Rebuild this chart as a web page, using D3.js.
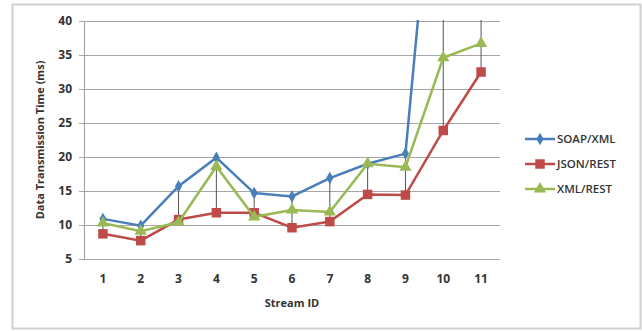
<!DOCTYPE html>
<html>
<head>
<meta charset="utf-8">
<script src="https://cdn.jsdelivr.net/npm/d3@7"></script>
<style>
  body { margin: 0; background: #fff; }
  text { font-family: "Open Sans", "Liberation Sans", sans-serif; }
</style>
</head>
<body>
<div id="chart"></div>
<script>
// chart data
const streamIds = [1, 2, 3, 4, 5, 6, 7, 8, 9, 10, 11];
const soapXml = [10.9, 9.9, 15.7, 19.9, 14.7, 14.2, 16.9, 19.0, 20.5, 80, 85];
const jsonRest = [8.7, 7.7, 10.8, 11.8, 11.8, 9.6, 10.5, 14.5, 14.4, 23.9, 32.5];
const xmlRest = [10.3, 9.1, 10.4, 18.6, 11.2, 12.2, 11.9, 19.0, 18.5, 34.6, 36.7];
const yTicks = [5, 10, 15, 20, 25, 30, 35, 40];

const series = [
    {name: "SOAP/XML", values: soapXml, color: "#4a7ebb", marker: d3.symbolDiamond, size: 45},
    {name: "JSON/REST", values: jsonRest, color: "#be4b48", marker: d3.symbolSquare, size: 90},
    {name: "XML/REST", values: xmlRest, color: "#98b954", marker: d3.symbolTriangle, size: 65}
];

const width = 642, height = 331;
const margin = {top: 21, left: 84, right: 142, bottom: 72};

const svg = d3.select("#chart").append("svg")
    .attr("width", width)
    .attr("height", height);

// outer frame
svg.append("rect")
    .attr("x", 12.5).attr("y", 4.5)
    .attr("width", 628).attr("height", 324)
    .attr("fill", "#fff")
    .attr("stroke", "#d0d0d0")
    .attr("stroke-width", 2);

let x = d3.scaleBand()
    .domain(streamIds)
    .range([margin.left, width - margin.right]);

let y = d3.scaleLinear()
    .domain([5, 40])
    .range([259, margin.top]);

svg.append("defs").append("clipPath")
    .attr("id", "plot-clip")
    .append("rect")
    .attr("x", margin.left).attr("y", margin.top - 1)
    .attr("width", width - margin.right - margin.left)
    .attr("height", 259 - margin.top + 6);

// gridlines
svg.append("g")
    .selectAll("line")
    .data(yTicks)
    .enter().append("line")
    .attr("x1", margin.left - 5)
    .attr("x2", width - margin.right)
    .attr("y1", d => Math.round(y(d)) + 0.5)
    .attr("y2", d => Math.round(y(d)) + 0.5)
    .attr("stroke", "#a6a6a6")
    .attr("stroke-width", 1.2);

// y axis line
svg.append("line")
    .attr("x1", margin.left + 0.5).attr("x2", margin.left + 0.5)
    .attr("y1", y(40)).attr("y2", y(5))
    .attr("stroke", "#a6a6a6")
    .attr("stroke-width", 1.2);

// y tick labels
svg.append("g")
    .selectAll("text")
    .data(yTicks)
    .enter().append("text")
    .attr("x", margin.left - 12)
    .attr("y", d => y(d))
    .attr("dy", "0.35em")
    .attr("text-anchor", "end")
    .attr("font-size", 12)
    .attr("font-weight", "bold")
    .attr("fill", "#333")
    .text(d => d);

// x tick labels
svg.append("g")
    .selectAll("text")
    .data(streamIds)
    .enter().append("text")
    .attr("x", d => x(d) + x.bandwidth() / 2)
    .attr("y", 283)
    .attr("text-anchor", "middle")
    .attr("font-size", 12)
    .attr("font-weight", "bold")
    .attr("fill", "#333")
    .text(d => d);

// axis titles
svg.append("text")
    .attr("x", (margin.left + width - margin.right) / 2)
    .attr("y", 307)
    .attr("text-anchor", "middle")
    .attr("font-size", 11)
    .attr("font-weight", "bold")
    .attr("fill", "#333")
    .text("Stream ID");

svg.append("text")
    .attr("transform", `translate(44, ${y(22.5)}) rotate(-90)`)
    .attr("text-anchor", "middle")
    .attr("font-size", 11)
    .attr("font-weight", "bold")
    .attr("fill", "#333")
    .text("Data Transmission Time (ms)");

let plot = svg.append("g").attr("clip-path", "url(#plot-clip)");

// high-low lines
plot.append("g")
    .selectAll("line")
    .data(streamIds)
    .enter().append("line")
    .attr("x1", (d, i) => x(d) + x.bandwidth() / 2)
    .attr("x2", (d, i) => x(d) + x.bandwidth() / 2)
    .attr("y1", (d, i) => y(d3.max(series, s => s.values[i])))
    .attr("y2", (d, i) => y(d3.min(series, s => s.values[i])))
    .attr("stroke", "#555")
    .attr("stroke-width", 1);

let line = d3.line()
    .x((d, i) => x(streamIds[i]) + x.bandwidth() / 2)
    .y(d => y(d));

series.forEach(s => {
    plot.append("path")
        .datum(s.values)
        .attr("d", line)
        .attr("fill", "none")
        .attr("stroke", s.color)
        .attr("stroke-width", 2.5);

    plot.append("g")
        .selectAll("path")
        .data(s.values)
        .enter().append("path")
        .attr("transform", (d, i) => `translate(${x(streamIds[i]) + x.bandwidth() / 2}, ${y(d)})`)
        .attr("d", d3.symbol().type(s.marker).size(s.size))
        .attr("fill", s.color);
});

// legend
let legend = svg.append("g")
    .selectAll("g")
    .data(series)
    .enter().append("g")
    .attr("transform", (d, i) => `translate(525, ${139 + i * 25})`);

legend.append("line")
    .attr("x1", 0).attr("x2", 30)
    .attr("stroke", d => d.color)
    .attr("stroke-width", 2.5);

legend.append("path")
    .attr("transform", "translate(15, 0)")
    .attr("d", d => d3.symbol().type(d.marker).size(d.size)())
    .attr("fill", d => d.color);

legend.append("text")
    .attr("x", 32)
    .attr("dy", "0.35em")
    .attr("font-size", 11.5)
    .attr("font-weight", 600)
    .attr("fill", "#333")
    .text(d => d.name);
</script>
</body>
</html>
